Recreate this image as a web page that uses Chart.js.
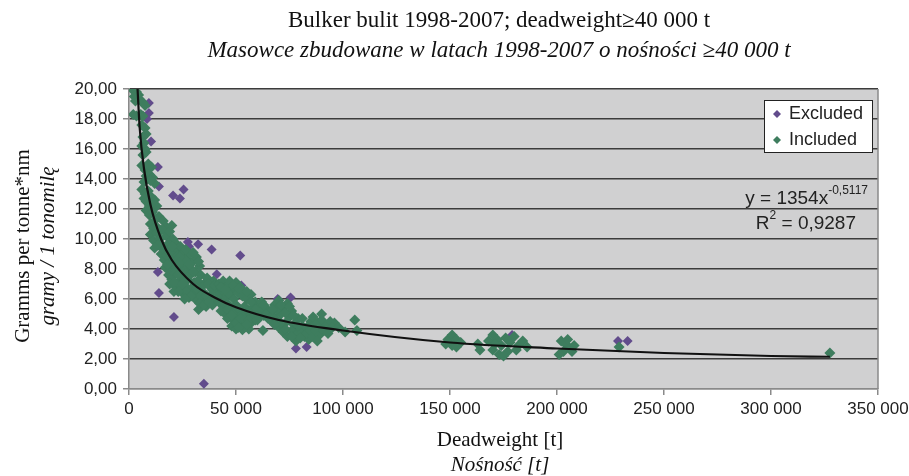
<!DOCTYPE html>
<html>
<head>
<meta charset="utf-8">
<script src="https://cdn.jsdelivr.net/npm/chart.js@4.4.1/dist/chart.umd.min.js"></script>
<style>
html, body { margin: 0; padding: 0; background: #fff; }
#wrap { width: 909px; height: 476px; }
</style>
</head>
<body>
<div id="wrap"><canvas id="chart" width="909" height="476"></canvas></div>
<script>
// deadweight [t] / grams per tonne*nm
var includedDwt = [2000,3500,2500,4500,3000,5000,6500,7500,2000,3500,5500,6500,6000,7500,8000,6500,
    6000,7500,6500,8000,7000,
    6000,7500,9000,10500,8000,9500,11000,7000,12000,10000,
    6000,7500,9000,10500,8000,9500,12000,13000,11000,7000,
    8000,9500,11000,12500,14000,16000,17500,10000,13000,15000,11500,
    10000,11500,13000,14500,16000,17500,19000,20500,22000,23500,16000,18500,13500,12000,20000,21000,
    15000,16500,18000,19500,21000,22500,24000,25500,27000,28500,30000,31500,33000,17000,19000,21000,23000,25000,27000,29000,31000,20000,26000,24000,
    16000,17500,19000,20500,22000,23500,26500,28000,30000,32500,18000,22000,26000,
    18500,20000,21500,23000,24500,26000,27500,29000,30500,32000,33500,35000,36500,38000,39500,41000,22000,25000,28000,31000,34000,36000,38000,40000,35000,33000,30000,27000,32500,24000,
    19000,21000,23000,25000,26500,28500,30000,32000,34000,36000,37000,39000,40000,29000,31500,33000,35000,37500,39000,21000,23000,26000,
    42000,44000,46000,48000,50000,52000,43000,45000,47000,49000,51000,53000,55000,57000,59000,42000,44000,46000,48000,50000,52000,54000,56000,58000,60000,45000,47000,49000,51000,53000,55000,57000,59000,48000,50000,52000,54000,56000,41000,61000,
    43000,45000,47000,49000,51000,53000,55000,57000,59000,43000,46000,49000,51000,53000,55000,57000,58000,46000,48000,50000,52000,54000,56000,53000,51000,55000,
    62000,64000,66000,63000,65000,61000,62600,60000,62000,64000,66000,63000,
    68000,70000,72000,74000,76000,67000,69000,71000,73000,75000,77000,79000,81000,70000,72000,74000,76000,78000,80000,82000,84000,78000,83000,85000,
    69000,71000,73000,75000,77000,79000,81000,83000,85000,87000,89000,91000,93000,80000,76000,73000,71000,68000,67000,96000,86000,
    86000,88000,90000,92000,94000,87000,89000,91000,93000,95000,88000,90000,
    98000,101000,105500,106500,
    149000,151000,153000,155000,151000,148000,153000,163000,164000,
    168000,170000,172000,174000,176000,178000,180000,182000,184000,186000,170000,173000,177000,181000,175000,171000,
    202000,204000,206000,208000,203000,201000,205000,207000,229000,327500];
var includedGrams = [19.9,19.8,19.5,19.6,19.2,19.3,19.1,18.9,18.3,18.2,18.3,18.2,17.6,17.4,17.0,16.8,
    16.2,16.0,15.6,15.8,16.4,
    14.9,14.6,15.0,14.8,14.2,14.3,14.1,13.8,13.7,13.9,
    13.3,13.0,13.2,12.8,12.5,12.2,12.6,12.2,12.4,12.7,
    11.9,11.6,11.8,11.3,11.5,11.2,10.8,11.0,10.8,10.6,10.7,
    10.3,9.9,10.4,10.0,10.6,10.2,10.5,10.0,9.7,9.4,9.5,9.7,9.6,9.4,10.9,9.4,
    9.0,8.6,9.2,8.8,9.3,8.9,9.5,9.1,8.7,9.0,8.5,8.8,8.2,8.1,7.9,8.2,8.0,8.3,7.9,8.0,7.8,8.5,8.6,8.8,
    9.3,8.9,9.1,9.5,8.5,8.4,9.3,8.3,9.1,8.5,8.3,7.9,7.9,
    7.6,7.3,7.7,7.1,7.5,6.9,7.3,6.7,7.1,6.5,7.6,7.0,7.4,6.8,7.2,6.6,6.8,6.4,6.1,6.0,5.8,5.5,6.2,5.9,6.4,6.2,6.5,6.5,5.3,6.9,
    7.0,7.1,7.6,7.0,7.7,7.6,7.8,7.2,6.8,6.2,7.0,6.6,6.9,6.2,6.7,5.7,5.6,5.8,5.6,6.5,6.5,6.0,
    7.0,7.2,6.9,6.6,7.1,6.8,6.4,6.1,6.3,6.0,6.4,6.2,6.0,6.3,5.8,5.8,5.5,5.7,5.3,5.6,5.2,5.5,5.2,5.4,5.0,5.0,4.8,4.6,4.9,4.5,4.7,4.4,4.6,4.2,4.0,4.3,4.1,4.0,6.2,5.5,
    6.8,6.6,7.2,6.9,6.7,6.6,6.5,5.8,5.3,5.2,5.3,5.1,5.4,5.0,5.2,5.0,4.8,4.7,4.9,4.4,4.7,4.6,4.6,3.95,4.1,4.3,
    5.8,5.4,5.1,4.9,4.7,4.8,3.9,4.6,5.2,5.0,4.6,5.6,
    5.6,5.9,5.4,5.7,5.2,4.9,4.6,5.0,4.4,4.8,4.3,4.7,4.2,4.1,3.8,3.5,3.9,3.6,3.9,3.5,3.3,3.2,4.1,4.5,
    5.3,5.6,5.1,5.5,4.9,4.2,4.7,3.7,3.9,4.4,4.1,4.4,4.2,3.4,3.5,4.0,4.4,4.3,5.3,4.4,3.5,
    4.8,4.4,4.6,4.2,4.5,3.9,3.6,3.9,3.7,4.1,3.2,5.0,
    4.1,3.8,4.6,3.9,
    3.3,3.6,3.3,3.1,2.9,3.0,2.8,3.0,2.6,
    3.2,3.6,3.3,2.9,3.4,3.1,3.5,2.9,3.2,2.8,2.6,2.3,2.5,2.6,2.2,3.0,
    3.2,3.0,2.7,2.9,2.5,2.3,3.3,2.5,2.8,2.4];

var excludedDwt = [9300,9300,8400,10300,13500,14000,20600,23800,25500,27500,28000,32300,38600,52000,
    13500,14000,21000,35000,41000,52500,69500,75500,78000,83000,179000,228500,233000];
var excludedGrams = [19.07,18.4,18.0,16.5,14.8,13.5,12.9,12.7,13.3,9.8,9.5,9.65,9.3,8.9,
    7.8,6.4,4.8,0.35,7.65,6.9,6.0,6.1,2.7,2.8,3.6,3.2,3.2];

// power trend line, as traced on the picture
var trendDwt = [4000,5000,7000,10000,15000,20000,30000,40000,50000,70000,100000,150000,200000,250000,300000,327500];
var trendGrams = [20.0,17.4,14.7,12.3,10.0,8.6,7.0,6.1,5.45,4.6,3.9,3.1,2.7,2.4,2.2,2.15];

var seriesNames = ['Excluded', 'Included'];
var xTicks = [0, 50000, 100000, 150000, 200000, 250000, 300000, 350000];

function toPoints(xs, ys) {
    var pts = [];
    for (var i = 0; i < xs.length; i++) pts.push({x: xs[i], y: ys[i]});
    return pts;
}

var SERIF = '"Liberation Serif", "Times New Roman", serif';
var SANS = '"Liberation Sans", Arial, sans-serif';
var PURPLE = '#624c8c';
var GREEN = '#3e7d5e';

function diamond(ctx, x, y, r, color) {
    ctx.beginPath();
    ctx.moveTo(x, y - r); ctx.lineTo(x + r, y); ctx.lineTo(x, y + r); ctx.lineTo(x - r, y);
    ctx.closePath();
    ctx.fillStyle = color;
    ctx.fill();
}

var decor = {
    id: 'decor',
    beforeDraw: function(chart) {
        var ctx = chart.ctx, a = chart.chartArea;
        ctx.save();
        ctx.fillStyle = '#fff';
        ctx.fillRect(0, 0, chart.width, chart.height);
        ctx.fillStyle = '#d0d0d1';
        ctx.fillRect(a.left, a.top, a.right - a.left, a.bottom - a.top);
        ctx.restore();
    },
    afterDraw: function(chart) {
        var ctx = chart.ctx, a = chart.chartArea;
        ctx.save();
        // right border of plot
        ctx.strokeStyle = '#8a8a8a';
        ctx.lineWidth = 1.5;
        ctx.beginPath(); ctx.moveTo(a.right, a.top); ctx.lineTo(a.right, a.bottom); ctx.stroke();

        // titles
        ctx.fillStyle = '#111';
        ctx.textAlign = 'center';
        ctx.textBaseline = 'middle';
        ctx.font = '23px ' + SERIF;
        ctx.fillText('Bulker bulit 1998-2007; deadweight\u226540 000 t', 499, 21);
        ctx.font = 'italic 23px ' + SERIF;
        ctx.fillText('Masowce zbudowane w latach 1998-2007 o no\u015bno\u015bci \u226540 000 t', 499, 51);
        ctx.font = '21px ' + SERIF;
        ctx.fillText('Deadweight [t]', 500, 440);
        ctx.font = 'italic 21px ' + SERIF;
        ctx.fillText('No\u015bno\u015b\u0107 [t]', 500, 465);

        ctx.save();
        ctx.translate(23, 246);
        ctx.rotate(-Math.PI / 2);
        ctx.font = '21px ' + SERIF;
        ctx.fillText('Gramms per tonne*nm', 0, 0);
        ctx.font = 'italic 21px ' + SERIF;
        ctx.fillText('gramy / 1 tonomil\u0119', 0, 25);
        ctx.restore();

        // legend box
        ctx.fillStyle = '#fff';
        ctx.fillRect(764.5, 100.5, 108, 52);
        ctx.strokeStyle = '#222';
        ctx.lineWidth = 1;
        ctx.strokeRect(764.5, 100.5, 108, 52);
        diamond(ctx, 777, 114, 4, PURPLE);
        diamond(ctx, 777, 140, 4, GREEN);
        ctx.fillStyle = '#222';
        ctx.textAlign = 'left';
        ctx.font = '18px ' + SANS;
        ctx.fillText(seriesNames[0], 789, 114);
        ctx.fillText(seriesNames[1], 789, 140);

        // trend equation
        ctx.textAlign = 'right';
        ctx.font = '12px ' + SANS;
        var sup = '-0,5117';
        ctx.fillText(sup, 868, 191);
        var w = ctx.measureText(sup).width;
        ctx.font = '19px ' + SANS;
        ctx.fillText('y = 1354x', 868 - w, 199);
        var rest = ' = 0,9287';
        ctx.fillText(rest, 856, 224);
        var w1 = ctx.measureText(rest).width;
        ctx.font = '12px ' + SANS;
        ctx.fillText('2', 856 - w1, 216);
        var w2 = ctx.measureText('2').width;
        ctx.font = '19px ' + SANS;
        ctx.fillText('R', 856 - w1 - w2, 224);
        ctx.restore();
    }
};

new Chart(document.getElementById('chart'), {
    type: 'scatter',
    data: {
        datasets: [{
            label: seriesNames[0],
            data: toPoints(excludedDwt, excludedGrams),
            pointStyle: 'rectRot',
            pointRadius: 5,
            backgroundColor: PURPLE,
            borderColor: PURPLE,
            borderWidth: 0,
            order: 3
        }, {
            label: seriesNames[1],
            data: toPoints(includedDwt, includedGrams),
            pointStyle: 'rectRot',
            pointRadius: 5.5,
            backgroundColor: GREEN,
            borderColor: GREEN,
            borderWidth: 0,
            order: 2
        }, {
            type: 'line',
            label: 'trend',
            data: toPoints(trendDwt, trendGrams),
            showLine: true,
            pointRadius: 0,
            borderColor: '#111',
            borderWidth: 2.2,
            cubicInterpolationMode: 'monotone',
            fill: false,
            order: 1
        }]
    },
    options: {
        responsive: false,
        animation: false,
        events: [],
        layout: { padding: { top: 89, right: 31, left: 0, bottom: 0 } },
        plugins: { legend: { display: false }, tooltip: { enabled: false } },
        scales: {
            x: {
                type: 'linear',
                min: 0, max: 350000,
                afterBuildTicks: function(s) { s.ticks = xTicks.map(function(v) { return {value: v}; }); },
                afterFit: function(s) { s.height = 87; s.paddingLeft = 0; s.paddingRight = 0; },
                grid: { drawOnChartArea: false, tickLength: 6, color: '#8a8a8a', lineWidth: 1.5 },
                border: { color: '#8a8a8a', width: 1.5 },
                ticks: {
                    color: '#222',
                    font: { family: SANS, size: 17 },
                    padding: 4,
                    maxRotation: 0,
                    callback: function(v) { return String(v).replace(/\B(?=(\d{3})+(?!\d))/g, ' '); }
                }
            },
            y: {
                min: 0, max: 20,
                afterFit: function(s) { s.width = 129; s.paddingTop = 0; s.paddingBottom = 0; },
                grid: {
                    color: function(c) { return c.tick && c.tick.value === 0 ? '#8a8a8a' : '#3c3c3c'; },
                    lineWidth: 1.5,
                    tickLength: 6,
                    tickColor: '#8a8a8a'
                },
                border: { color: '#8a8a8a', width: 1.5 },
                ticks: {
                    stepSize: 2,
                    color: '#222',
                    font: { family: SANS, size: 17 },
                    padding: 6,
                    callback: function(v) { return v.toFixed(2).replace('.', ','); }
                }
            }
        }
    },
    plugins: [decor]
});
</script>
</body>
</html>
